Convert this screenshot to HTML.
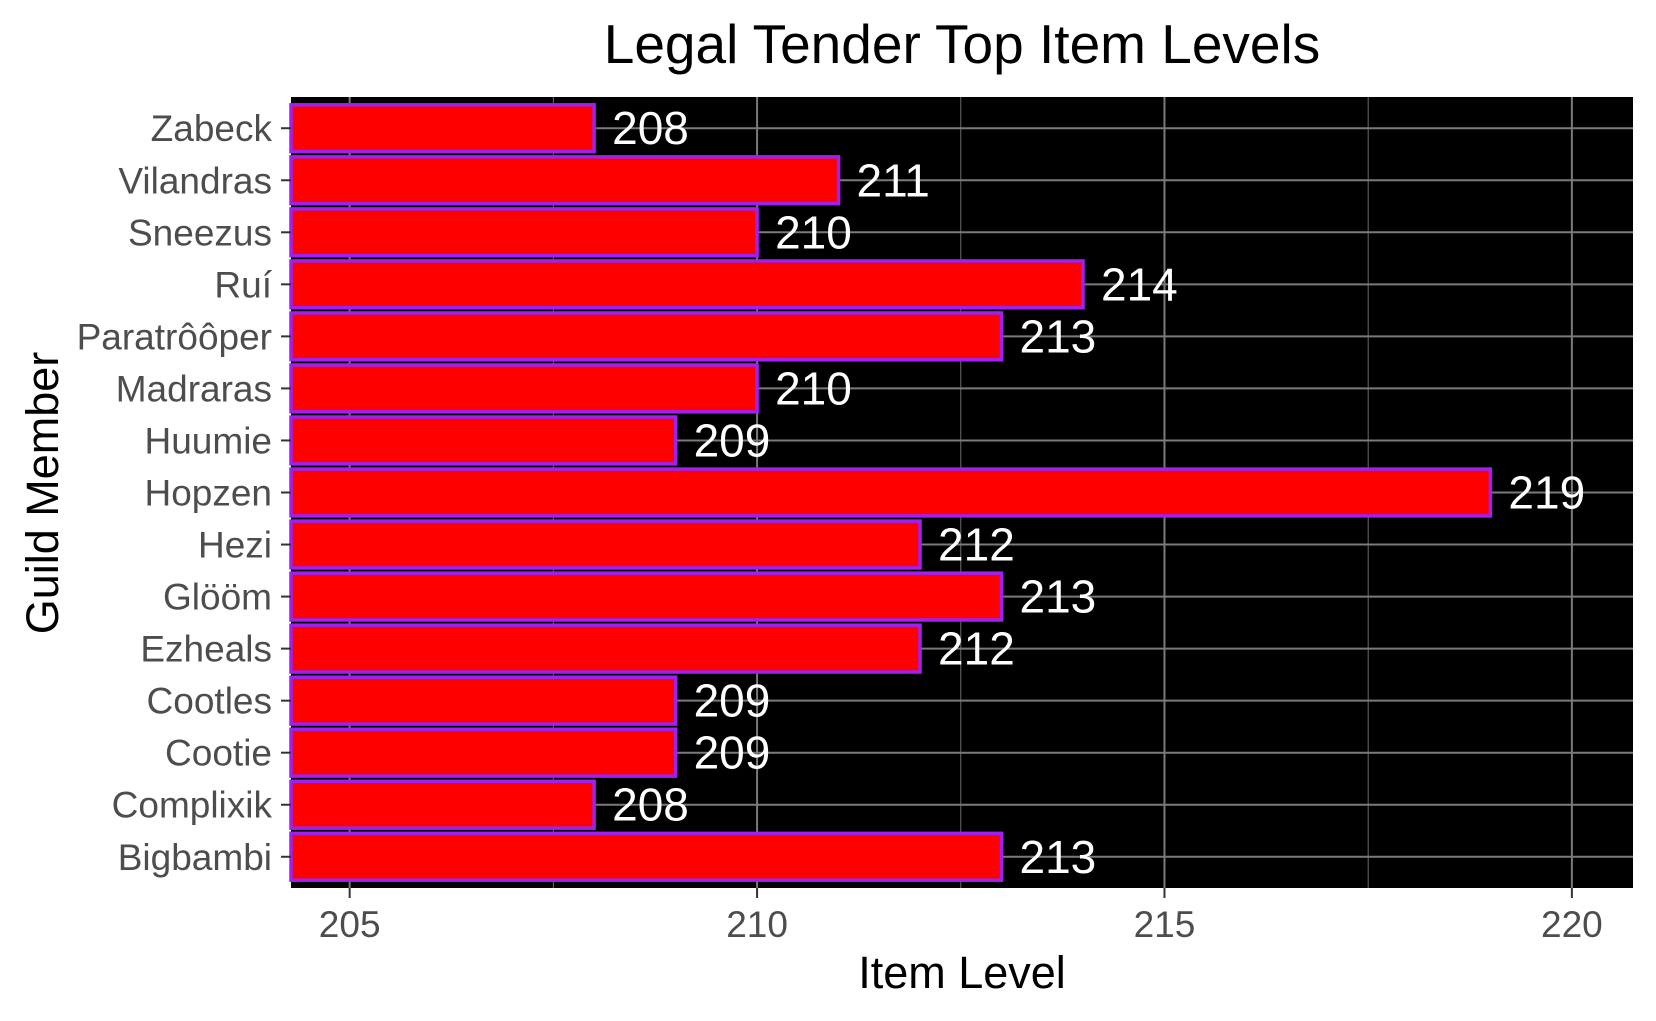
<!DOCTYPE html>
<html><head><meta charset="utf-8">
<style>
html,body{margin:0;padding:0;background:#fff;}
svg{display:block;font-family:"Liberation Sans",Arial,sans-serif;}
</style></head>
<body>
<svg id="chart" width="1656" height="1021" viewBox="0 0 1656 1021">
<text x="962" y="63" font-size="55" text-anchor="middle" fill="#000">Legal Tender Top Item Levels</text>
<rect x="291" y="97" width="1342" height="791" fill="#000"/>
<g id="grid"></g>
<g id="bars"></g>
<g id="axes"></g>
<text x="962" y="988" font-size="45" text-anchor="middle" fill="#000">Item Level</text>
<text transform="translate(58,493) rotate(-90)" font-size="45" text-anchor="middle" fill="#000">Guild Member</text>
</svg>
<script>
const members = ["Zabeck","Vilandras","Sneezus","Ruí","Paratrôôper","Madraras","Huumie","Hopzen","Hezi","Glööm","Ezheals","Cootles","Cootie","Complixik","Bigbambi"];
const levels = [208,211,210,214,213,210,209,219,212,213,212,209,209,208,213];
const xTicks = [205,210,215,220];
const xMinor = [207.5,212.5,217.5];

const NS="http://www.w3.org/2000/svg";
const L=291,R=1633,T=97,B=888,dMin=204.28,dMax=220.75;
function x(v){return L+(v-dMin)/(dMax-dMin)*(R-L);}
const step=(B-T)/(members.length-1+1.2);
function y(i){return T+(0.6+i)*step;}
function mk(tag,attrs,parent){const e=document.createElementNS(NS,tag);for(const k in attrs)e.setAttribute(k,attrs[k]);parent.appendChild(e);return e;}
const grid=document.getElementById('grid'),bars=document.getElementById('bars'),axes=document.getElementById('axes');

xMinor.forEach(v=>{const g=mk('line',{x1:x(v),x2:x(v),y1:T,y2:B,stroke:'#6b6b6b','stroke-width':1},grid);

});
xTicks.forEach(v=>{const g=mk('line',{x1:x(v),x2:x(v),y1:T,y2:B,stroke:'#7a7a7a','stroke-width':2},grid);


const t=mk('line',{x1:x(v),x2:x(v),y1:B,y2:B+10,stroke:'#333','stroke-width':2},axes);


const l=mk('text',{x:x(v),y:B+49,'font-size':37,'text-anchor':'middle',fill:'#4d4d4d'},axes);l.textContent=v;

});
members.forEach((m,i)=>{const g=mk('line',{x1:L,x2:R,y1:y(i),y2:y(i),stroke:'#7a7a7a','stroke-width':2},grid);


const t=mk('line',{x1:L-10,x2:L,y1:y(i),y2:y(i),stroke:'#333','stroke-width':2},axes);


const l=mk('text',{x:L-19,y:y(i)+13,'font-size':37,'text-anchor':'end',fill:'#4d4d4d'},axes);l.textContent=m;

});
levels.forEach((v,i)=>{const h=step*0.9;
const r=mk('rect',{x:L,y:y(i)-h/2,width:x(v)-L,height:h,fill:'#ff0000',stroke:'#a020f0','stroke-width':3.5},bars);


const l=mk('text',{x:x(v)+18,y:y(i)+16,'font-size':46,fill:'#fff'},bars);l.textContent=v;

});
</script>
</body></html>
